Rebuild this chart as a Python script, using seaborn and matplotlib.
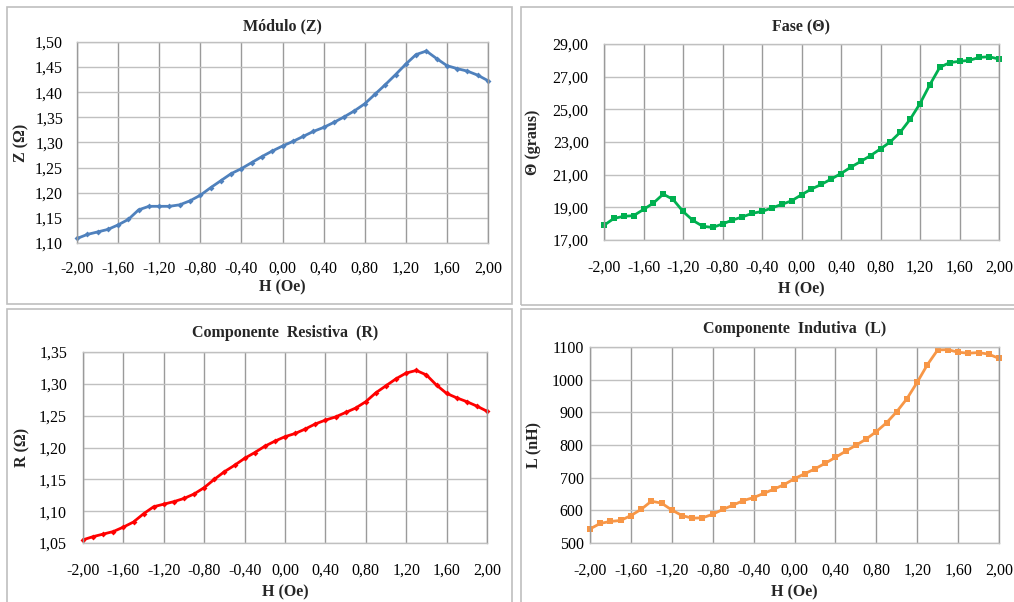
import numpy as np
import pandas as pd
import matplotlib
matplotlib.use("Agg")
import matplotlib.pyplot as plt
from matplotlib.patches import Rectangle
from matplotlib.ticker import FuncFormatter, FixedLocator
from matplotlib.transforms import Affine2D
import seaborn as sns

# Applied field H (Oe), -2.0 ... 2.0 in 0.1 steps
H = [-2.0, -1.9, -1.8, -1.7, -1.6, -1.5, -1.4, -1.3, -1.2, -1.1, -1.0,
     -0.9, -0.8, -0.7, -0.6, -0.5, -0.4, -0.3, -0.2, -0.1, 0.0,
     0.1, 0.2, 0.3, 0.4, 0.5, 0.6, 0.7, 0.8, 0.9, 1.0,
     1.1, 1.2, 1.3, 1.4, 1.5, 1.6, 1.7, 1.8, 1.9, 2.0]

# Impedance modulus Z (Ohm)
Z = [1.109, 1.117, 1.122, 1.127, 1.136, 1.147, 1.166, 1.173, 1.173, 1.173, 1.176,
     1.184, 1.195, 1.210, 1.224, 1.238, 1.248, 1.260, 1.272, 1.283, 1.293,
     1.302, 1.312, 1.322, 1.330, 1.340, 1.351, 1.363, 1.377, 1.396, 1.415,
     1.435, 1.456, 1.475, 1.482, 1.467, 1.453, 1.447, 1.442, 1.434, 1.423]

# Phase angle (degrees)
THETA = [17.90, 18.32, 18.45, 18.49, 18.87, 19.26, 19.81, 19.48, 18.75, 18.20, 17.84,
         17.77, 17.98, 18.22, 18.41, 18.63, 18.75, 18.96, 19.18, 19.40, 19.77,
         20.12, 20.40, 20.73, 21.07, 21.46, 21.81, 22.17, 22.58, 23.01, 23.60,
         24.39, 25.35, 26.51, 27.57, 27.86, 27.94, 28.00, 28.18, 28.22, 28.08]

# Resistive component R (Ohm)
R = [1.055, 1.060, 1.064, 1.068, 1.075, 1.083, 1.096, 1.107, 1.111, 1.115, 1.120,
     1.127, 1.137, 1.150, 1.162, 1.172, 1.183, 1.192, 1.202, 1.210, 1.217,
     1.222, 1.229, 1.237, 1.243, 1.248, 1.255, 1.262, 1.272, 1.286, 1.297,
     1.308, 1.317, 1.321, 1.314, 1.298, 1.285, 1.278, 1.272, 1.265, 1.257]

# Inductive component L (nH)
L = [543, 560, 566, 569, 584, 603, 628, 622, 601, 584, 576,
     577, 588, 603, 616, 630, 639, 652, 665, 679, 697,
     712, 727, 744, 762, 781, 799, 818, 841, 868, 902,
     942, 992, 1046, 1091, 1092, 1084, 1081, 1083, 1078, 1065]

X_TICKS = [-2.0, -1.6, -1.2, -0.8, -0.4, 0.0, 0.4, 0.8, 1.2, 1.6, 2.0]

SERIF = ["Liberation Serif", "DejaVu Serif"]
sns.set_style("white")
plt.rcParams["font.family"] = SERIF

W, Hpx = 1014, 602
fig = plt.figure(figsize=(W / 100, Hpx / 100), dpi=100)
fig.patch.set_facecolor("white")
# pixel coordinates measured from the top-left corner of the figure
px = Affine2D().scale(1 / W, -1 / Hpx).translate(0, 1) + fig.transFigure


def frac(x0, y0, x1, y1):
    return [x0 / W, 1 - y1 / Hpx, (x1 - x0) / W, (y1 - y0) / Hpx]


# grey panel frames
for (x0, y0, x1, y1) in [(7, 7, 512, 304), (521, 7, 1020, 305),
                         (7, 309, 512, 610), (521, 309, 1020, 610)]:
    fig.add_artist(Rectangle((x0, y1), x1 - x0, y0 - y1, transform=px,
                             fill=False, edgecolor="#BFBFBF", linewidth=1.2))

df = pd.DataFrame({"H": H, "Z": Z, "THETA": THETA, "R": R, "L": L})

comma2 = FuncFormatter(lambda v, p: f"{v:.2f}".replace(".", ",").replace("-0,00", "0,00"))
intfmt = FuncFormatter(lambda v, p: f"{v:.0f}")

panels = [
    dict(rect=(77, 42, 488, 243), y="Z", color="#4F81BD", marker="D", ms=3.0,
         title="Módulo (Z)", ty=26, ylabel="Z (Ω)", ylx=21,
         yticks=np.arange(1.10, 1.501, 0.05), fmt=comma2, xpad=12.5, ypad=10, xly=287),
    dict(rect=(604, 44, 999, 240), y="THETA", color="#00B050", marker="s", ms=4.2,
         title="Fase (Θ)", ty=27, ylabel="Θ (graus)", ylx=533,
         yticks=np.arange(17, 29.01, 2), fmt=comma2, xpad=14.5, ypad=11, xly=289),
    dict(rect=(83, 352, 487, 543), y="R", color="#FF0000", marker="D", ms=3.0,
         title="Componente  Resistiva  (R)", ty=333, ylabel="R (Ω)", ylx=22,
         yticks=np.arange(1.05, 1.351, 0.05), fmt=comma2, xpad=14.5, ypad=11.5, xly=592),
    dict(rect=(590, 347, 999, 543), y="L", color="#F79646", marker="s", ms=4.2,
         title="Componente  Indutiva  (L)", ty=329, ylabel="L (nH)", ylx=534,
         yticks=np.arange(500, 1100.1, 100), fmt=intfmt, xpad=14.5, ypad=4.5, xly=592),
]

for p in panels:
    x0, y0, x1, y1 = p["rect"]
    ax = fig.add_axes(frac(x0, y0, x1, y1))
    sns.lineplot(data=df, x="H", y=p["y"], ax=ax, color=p["color"], linewidth=2.0,
                 marker=p["marker"], markersize=p["ms"], markeredgewidth=0,
                 markerfacecolor=p["color"])
    ax.set_xlim(-2.0, 2.0)
    ax.set_ylim(p["yticks"][0], p["yticks"][-1])
    ax.xaxis.set_major_locator(FixedLocator(X_TICKS))
    ax.yaxis.set_major_locator(FixedLocator(list(p["yticks"])))
    ax.xaxis.set_major_formatter(comma2)
    ax.yaxis.set_major_formatter(p["fmt"])
    ax.grid(True, axis="x", color="#9A9A9A", linewidth=1.0)
    ax.grid(True, axis="y", color="#C0C0C0", linewidth=1.0)
    ax.set_axisbelow(True)
    for s in ax.spines.values():
        s.set_color("#9A9A9A")
        s.set_linewidth(1.0)
    ax.spines["bottom"].set_color("#C0C0C0")
    ax.spines["top"].set_color("#C0C0C0")
    ax.tick_params(axis="both", length=0, labelsize=11.5, colors="black")
    ax.tick_params(axis="x", pad=p["xpad"])
    ax.tick_params(axis="y", pad=p["ypad"])
    for lbl in ax.get_xticklabels() + ax.get_yticklabels():
        lbl.set_fontfamily(SERIF)
    ax.set_xlabel("")
    ax.set_ylabel("")
    fig.text((x0 + x1) / 2, p["ty"], p["title"], transform=px, ha="center", va="center",
             fontsize=11.5, fontweight="bold", family=SERIF)
    fig.text((x0 + x1) / 2, p["xly"], "H (Oe)", transform=px, ha="center", va="center",
             fontsize=11.5, fontweight="bold", family=SERIF)
    fig.text(p["ylx"], (y0 + y1) / 2, p["ylabel"], transform=px, ha="center", va="center",
             rotation=90, fontsize=11.5, fontweight="bold", family=SERIF)
    for line in ax.lines:
        line.set_clip_on(False)

fig.savefig("out.png", dpi=100, facecolor="white")
